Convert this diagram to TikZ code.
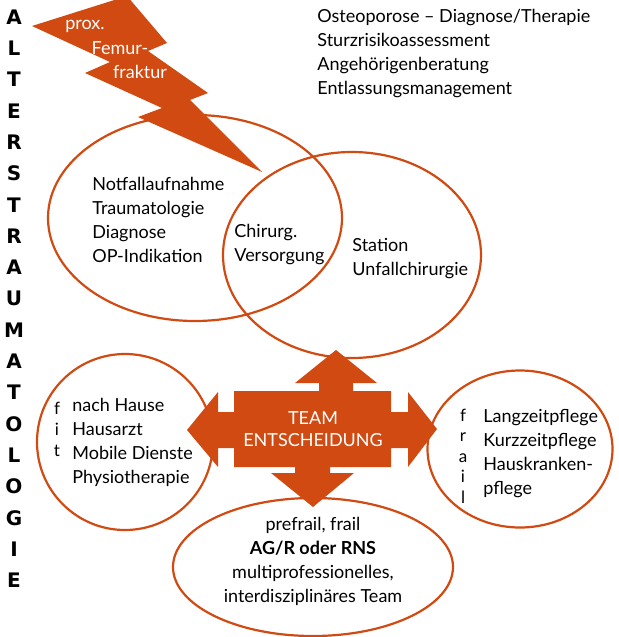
\documentclass[tikz,border=0pt]{standalone}
\usepackage{fontspec}
\setmainfont{Lato}
\newfontfamily\heavyfont{DejaVu Sans}
\usetikzlibrary{shapes.geometric}
\definecolor{rost}{RGB}{208,74,18}
\tikzset{
oval/.style={draw=rost, line width=1.1pt, ellipse, inner sep=0pt},
txt/.style={align=left, inner sep=0pt, anchor=west, font=\fontsize{9}{12}\selectfont},
ctxt/.style={align=center, inner sep=0pt, font=\fontsize{9}{12}\selectfont},
wtxt/.style={text=white, align=center, inner sep=0pt, font=\fontsize{9}{11}\selectfont},
vert/.style={align=center, inner sep=0pt, font=\fontsize{8.5}{10.5}\selectfont},
vletter/.style={inner sep=0pt, font=\fontsize{10}{12}\selectfont\heavyfont\bfseries}
}
\begin{document}
\begin{tikzpicture}[x=0.5pt, y=-0.5pt]
\useasboundingbox (0,0) rectangle (618,637);
\begin{scope}
\clip (0,0) rectangle (618,637);
\node[oval, minimum width=147pt, minimum height=103pt] (akut) at (195,218) {};
\node[oval, minimum width=129pt, minimum height=103pt] (station) at (352,255) {};
\node[oval, minimum width=88pt, minimum height=88pt] (heim) at (125,442) {};
\node[oval, minimum width=92.5pt, minimum height=78.5pt] (pflege) at (520,449) {};
\node[oval, minimum width=140pt, minimum height=69pt] (geriatrie) at (313,567) {};
\fill[rost] (32,26) -- (127,-4) -- (167,43) -- (148,51) -- (208,93) -- (190,100) -- (262,172)
  -- (138,117) -- (162,108) -- (85,73) -- (110,62) -- cycle;
\fill[rost] (336,350) -- (377,383) -- (353,383) -- (353,391) -- (391,391) -- (391,412) -- (408,412)
  -- (408,392) -- (437,429) -- (408,467) -- (408,448) -- (391,448) -- (391,467) -- (330,467)
  -- (330,473) -- (354,473) -- (313,507) -- (271,473) -- (295,473) -- (295,467) -- (234,467)
  -- (234,448) -- (218,448) -- (218,467) -- (187,430) -- (218,392) -- (218,412) -- (234,412)
  -- (234,391) -- (319,391) -- (319,383) -- (295,383) -- cycle;
\end{scope}
\foreach \l [count=\i] in {A,L,T,E,R,S,T,R,A,U,M,A,T,O,L,O,G,I,E}
  \node[vletter] (v\i) at (14,{17+(\i-1)*31.3}) {\l};
\node[wtxt] (prox) at (85,26) {prox.};
\node[wtxt] (femur) at (120,48) {Femur-};
\node[wtxt] (fraktur) at (140,72) {fraktur};
\node[txt] (aufgaben) at (317,54) {Osteoporose -- Diagnose/Therapie\\Sturzrisikoassessment\\Angehörigenberatung\\Entlassungsmanagement};
\node[txt] (notfall) at (92,219.5) {Notfallaufnahme\\Traumatologie\\Diagnose\\OP-Indikation};
\node[txt] (chirurg) at (234,245) {Chirurg.\\Versorgung};
\node[txt] (unfall) at (352,259) {Station\\Unfallchirurgie};
\node[wtxt] (entscheid) at (313,429) {TEAM\\ENTSCHEIDUNG};
\node[vert] (fit) at (57,429) {f\\i\\t};
\node[txt] (zuhause) at (72,442.5) {nach Hause\\Hausarzt\\Mobile Dienste\\Physiotherapie};
\node[vert, font=\fontsize{8.5}{10.25}\selectfont] (frail) at (463,456) {f\\r\\a\\i\\l};
\node[txt] (langzeit) at (483,454) {Langzeitpflege\\Kurzzeitpflege\\Hauskranken-\\pflege};
\node[ctxt] (team) at (313,561.5) {prefrail, frail\\\textbf{AG/R oder RNS}\\multiprofessionelles,\\interdisziplinäres Team};
\end{tikzpicture}
\end{document}
